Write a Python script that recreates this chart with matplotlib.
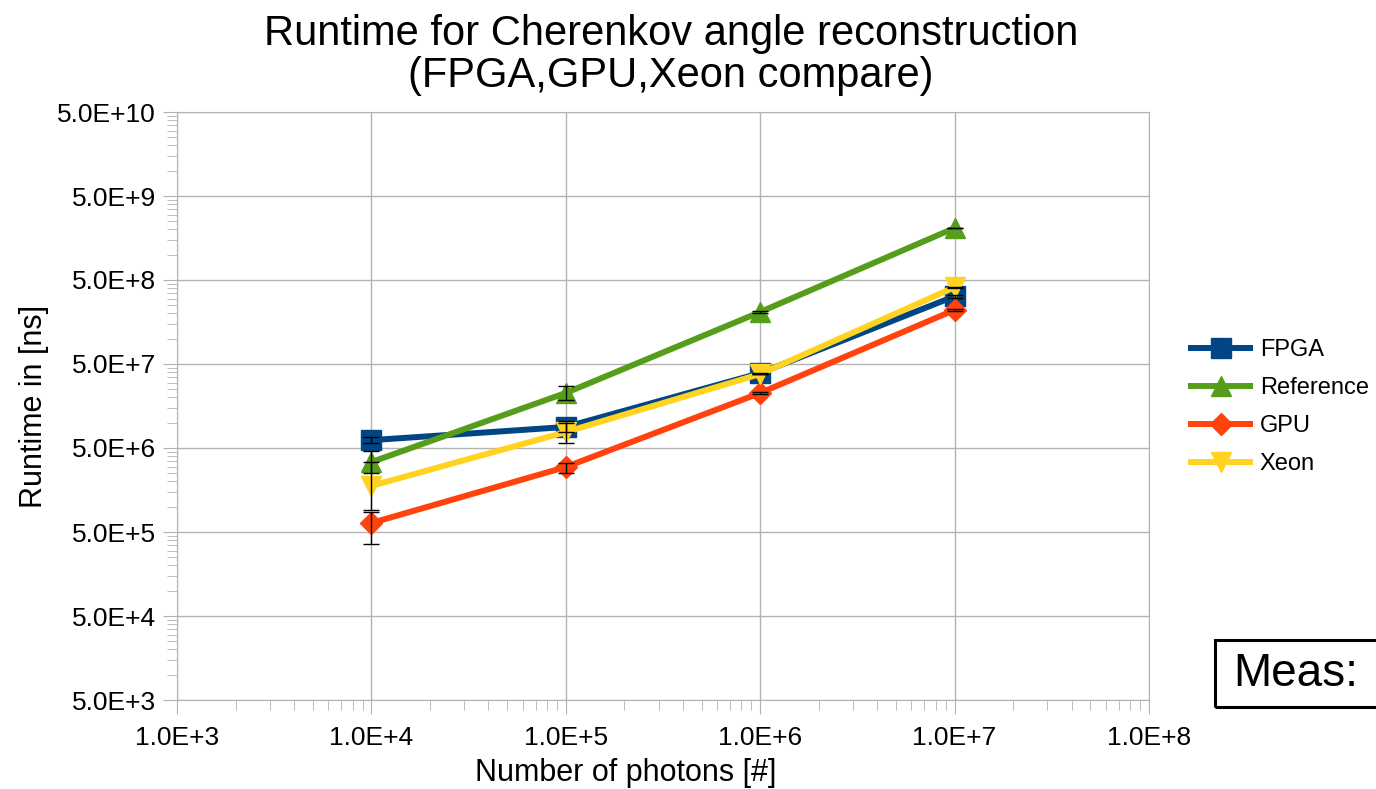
import matplotlib
matplotlib.use("Agg")
import matplotlib.pyplot as plt
from matplotlib.ticker import FuncFormatter, FixedLocator, NullFormatter
from matplotlib.patches import Rectangle
import numpy as np

plt.rcParams['font.family'] = ['Liberation Sans', 'DejaVu Sans']

photons = [1e4, 1e5, 1e6, 1e7]

fpga = [6.2e6, 8.9e6, 3.9e7, 3.2e8]
fpga_low = [5.74e6, 7.75e6, 3.85e7, 3.05e8]
fpga_high = [6.75e6, 9.9e6, 3.95e7, 3.35e8]

reference = [3.4e6, 2.26e7, 2.08e8, 2.08e9]
reference_low = [2.52e6, 1.86e7, 2.04e8, 2.06e9]
reference_high = [4.6e6, 2.74e7, 2.12e8, 2.1e9]

gpu = [6.4e5, 2.97e6, 2.26e7, 2.2e8]
gpu_low = [3.6e5, 2.52e6, 2.2e7, 2.15e8]
gpu_high = [8.6e5, 3.3e6, 2.32e7, 2.25e8]

xeon = [1.77e6, 7.75e6, 3.8e7, 4.1e8]
xeon_low = [9.1e5, 5.74e6, 3.75e7, 4.05e8]
xeon_high = [3.4e6, 1.05e7, 3.85e7, 4.15e8]

series = [
    ("FPGA", fpga, fpga_low, fpga_high, "#004586", "s", 14),
    ("Reference", reference, reference_low, reference_high, "#579d1c", "^", 14),
    ("GPU", gpu, gpu_low, gpu_high, "#ff420e", "D", 11),
    ("Xeon", xeon, xeon_low, xeon_high, "#ffd320", "v", 14),
]

fig = plt.figure(figsize=(13.76, 7.89), dpi=100)
ax = fig.add_axes([177/1376, 89/789, 972/1376, 588/789])

for name, y, lo, hi, col, mk, ms in series:
    y = np.array(y)
    err = [y - np.array(lo), np.array(hi) - y]
    ax.plot(photons, y, color=col, lw=4.3, marker=mk, ms=ms, label=name, zorder=3)
    ax.errorbar(photons, y, yerr=err, fmt="none", ecolor="black", elinewidth=1,
                capsize=6, capthick=1, zorder=4)

ax.set_xscale("log")
ax.set_yscale("log")
ax.set_xlim(1e3, 1e8)
ax.set_ylim(5e3, 5e10)

yticks = [5 * 10**k for k in range(3, 11)]
ax.yaxis.set_major_locator(FixedLocator(yticks))
ax.yaxis.set_minor_locator(FixedLocator([5 * 10**k * m for k in range(3, 10) for m in range(2, 10)]))
ax.xaxis.set_major_locator(FixedLocator([10.0**k for k in range(3, 9)]))
ax.xaxis.set_minor_locator(FixedLocator([10**k * m for k in range(3, 8) for m in range(2, 10)]))

def sci(v, pos):
    e = int(np.floor(np.log10(v) + 1e-9))
    m = v / 10**e
    return "%.1fE+%d" % (m, e)

ax.yaxis.set_major_formatter(FuncFormatter(sci))
ax.xaxis.set_major_formatter(FuncFormatter(sci))
ax.yaxis.set_minor_formatter(NullFormatter())
ax.xaxis.set_minor_formatter(NullFormatter())

ax.grid(True, which="major", color="#b3b3b3", lw=1)
for s in ax.spines.values():
    s.set_color("#b3b3b3")
ax.tick_params(which="major", length=10, color="#b3b3b3", labelsize=19)
ax.tick_params(axis="y", which="major", pad=5)
ax.tick_params(axis="x", which="major", pad=9)
ax.tick_params(which="minor", length=7, color="#b3b3b3")

ax.set_xlabel("Number of photons [#]", fontsize=22)
ax.xaxis.set_label_coords((626 - 177) / 972, -0.099)
ax.set_ylabel("Runtime in [ns]", fontsize=22, labelpad=6)
fig.text(671/1376, 1 - 55/789, "Runtime for Cherenkov angle reconstruction\n(FPGA,GPU,Xeon compare)",
         ha="center", va="center", fontsize=30, linespacing=1.08)

fig.legend(loc="center left", bbox_to_anchor=(1170/1376, 1 - 407/789), frameon=False,
           fontsize=17, handlelength=2.5, labelspacing=0.68, handletextpad=0.4)

fig.patches.append(Rectangle((1215/1376, 1 - 707/789), 200/1376, 67/789, fill=False,
                             ec="black", lw=2.2, transform=fig.transFigure, figure=fig))
fig.text(1233/1376, 1 - 674/789, "Meas:", fontsize=33, va="center", ha="left")

fig.savefig("out.png", dpi=100)
